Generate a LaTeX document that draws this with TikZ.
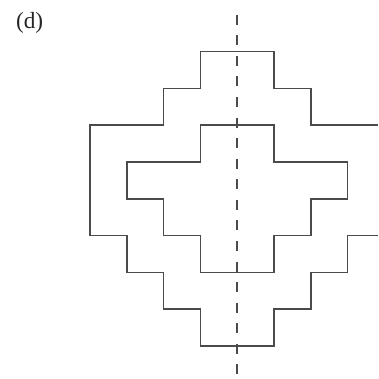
\documentclass[tikz,border=0pt]{standalone}
\usepackage{fontspec}
\setmainfont{Liberation Serif}
\usepackage{tikz}
\definecolor{trait}{RGB}{75,75,75}

\begin{document}
\begin{tikzpicture}[x=1cm, y=1cm,
    contour/.style={draw=trait, line width=1.2pt, line join=miter},
    axe/.style={draw=trait, line width=1.2pt, dash pattern=on 7.7pt off 8.2pt}]

% Cadre
\useasboundingbox (-2.446,-0.897) rectangle (7.826,9.402);

% Etiquette
\node[font=\fontsize{18}{20}\selectfont, text=black!85] (etiq) at (-1.64,8.78) {(d)};

% Axe de symetrie
\draw[axe] (4,9) -- (4,-0.897);

% Contour exterieur
\draw[contour] (7.826,6) -- (6,6) -- (6,7) -- (5,7) -- (5,8) -- (3,8) -- (3,7)
    -- (2,7) -- (2,6) -- (0,6) -- (0,3) -- (1,3) -- (1,2) -- (2,2) -- (2,1)
    -- (3,1) -- (3,0) -- (5,0) -- (5,1) -- (6,1) -- (6,2) -- (7,2) -- (7,3)
    -- (7.826,3);

% Contour interieur
\draw[contour] (3,6) -- (5,6) -- (5,5) -- (7,5) -- (7,4) -- (6,4) -- (6,3)
    -- (5,3) -- (5,2) -- (3,2) -- (3,3) -- (2,3) -- (2,4) -- (1,4) -- (1,5)
    -- (3,5) -- cycle;

\end{tikzpicture}
\end{document}
